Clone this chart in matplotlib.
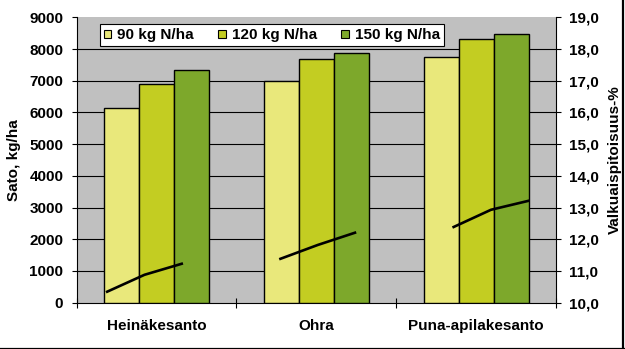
import matplotlib
matplotlib.use("Agg")
import matplotlib.pyplot as plt
import numpy as np
from matplotlib.patches import Patch
from matplotlib.lines import Line2D
from matplotlib.ticker import FuncFormatter, FixedLocator

categories = ["Heinäkesanto", "Ohra", "Puna-apilakesanto"]
series_labels = ["90 kg N/ha", "120 kg N/ha", "150 kg N/ha"]
yield_90 = [6130, 6990, 7750]
yield_120 = [6890, 7680, 8310]
yield_150 = [7340, 7870, 8470]
protein = [[10.33, 10.88, 11.24],
           [11.37, 11.82, 12.22],
           [12.37, 12.93, 13.22]]

colors = ["#E9E87B", "#C3CD22", "#7DA82B"]
font = "Liberation Sans"
fs = 11

plt.rcParams["font.family"] = [font, "DejaVu Sans"]
plt.rcParams["font.weight"] = "bold"

fig = plt.figure(figsize=(6.25, 3.49), dpi=100)
ax = fig.add_axes([76.5/625, 1-302.7/349, (556-76.5)/625, (302.7-17.3)/349])
ax.set_facecolor("#C0C0C0")

x = np.arange(len(categories))
w = 0.219
for i, (vals, c) in enumerate(zip([yield_90, yield_120, yield_150], colors)):
    ax.bar(x + (i-1)*w, vals, width=w, color=c, edgecolor="black", linewidth=1.0, zorder=3)

ax.set_xlim(-0.5, 2.5)
ax.set_ylim(0, 9000)
ax.set_yticks(np.arange(0, 9001, 1000))
for yv in range(1000, 9000, 1000):
    ax.axhline(yv, color="black", linewidth=0.8, zorder=1)
ax.tick_params(axis="y", direction="out", length=3.5, width=0.8, pad=6, labelsize=fs)
ax.set_xticks(x)
ax.set_xticklabels(categories, fontsize=fs, fontweight="bold")
ax.tick_params(axis="x", which="major", length=0, pad=12)
ax.xaxis.set_minor_locator(FixedLocator([-0.5, 0.5, 1.5, 2.5]))
ax.tick_params(axis="x", which="minor", direction="inout", length=7, width=0.8)
for s in ["top", "right"]:
    ax.spines[s].set_visible(False)
ax.spines["left"].set_linewidth(0.8)
ax.spines["bottom"].set_linewidth(0.8)
ax.set_ylabel("Sato, kg/ha", fontsize=fs, fontweight="bold", labelpad=6)

ax2 = ax.twinx()
ax2.set_ylim(10, 19)
ax2.set_yticks(np.arange(10, 19.01, 1))
ax2.yaxis.set_major_formatter(FuncFormatter(lambda v, p: f"{v:.1f}".replace(".", ",")))
ax2.tick_params(axis="y", direction="out", length=3.5, width=0.8, pad=6, labelsize=fs)
for s in ["top", "left", "bottom"]:
    ax2.spines[s].set_visible(False)
ax2.spines["right"].set_linewidth(0.8)
ax2.set_ylabel("Valkuaispitoisuus-%", fontsize=fs, fontweight="bold", labelpad=6)

ax3 = ax2.twiny()
ax3.set_xlim(-0.766, 11.69)
ax3.axis("off")
stride = 4.5
for g, vals in enumerate(protein):
    px = g*stride + np.arange(len(vals))
    ax3.plot(px, vals, color="black", linewidth=1.9, solid_capstyle="butt")
ax3.set_ylim(10, 19)

handles = [Patch(facecolor=c, edgecolor="black", linewidth=0.8) for c in colors]
leg = ax3.legend(handles, series_labels, loc="upper left", bbox_to_anchor=(0.049, 0.975),
                 bbox_transform=ax.transAxes,
                 ncol=3, frameon=True, fancybox=False, borderaxespad=0, framealpha=1,
                 handlelength=0.48, handleheight=0.48, handletextpad=0.4,
                 columnspacing=1.6, borderpad=0.25,
                 prop={"family": font, "weight": "bold", "size": fs})
leg.get_frame().set_edgecolor("black")
leg.get_frame().set_linewidth(0.8)
leg.get_frame().set_facecolor("white")

fig.add_artist(Line2D([0, 1], [0.5/349, 0.5/349], color="black", linewidth=1.6, transform=fig.transFigure))
fig.add_artist(Line2D([1-1.8/625, 1-1.8/625], [0, 1], color="black", linewidth=1.6, transform=fig.transFigure))

fig.savefig("out.png", dpi=100)
